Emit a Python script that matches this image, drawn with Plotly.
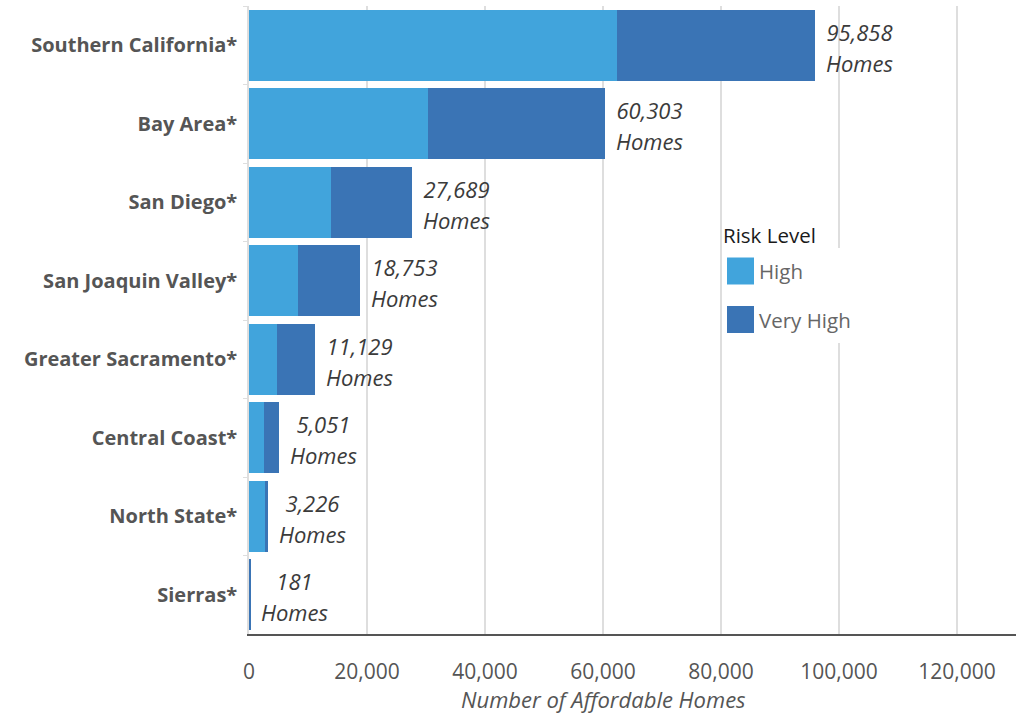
import plotly.graph_objects as go

regions = ["Southern California*", "Bay Area*", "San Diego*", "San Joaquin Valley*",
           "Greater Sacramento*", "Central Coast*", "North State*", "Sierras*"]
high = [62400, 30340, 13900, 8300, 4750, 2590, 2700, 168]
very_high = [33458, 29963, 13789, 10453, 6379, 2461, 526, 13]
totals = [95858, 60303, 27689, 18753, 11129, 5051, 3226, 181]
series_names = ["High", "Very High"]
colors = ["#41A4DC", "#3A74B5"]
x_ticks = [0, 20000, 40000, 60000, 80000, 100000, 120000]

W, H = 1016, 714
L, R, T, B = 249, 0, 6, 80
pw, ph = W - L - R, H - T - B


def px(x):
    return (x - L) / pw


def py(y):
    return (H - B - y) / ph


FONT = "Open Sans"

fig = go.Figure()
for name, vals, col in zip(series_names, [high, very_high], colors):
    fig.add_trace(go.Bar(
        y=regions, x=vals, name=name, orientation="h",
        marker=dict(color=col, line=dict(width=0)),
        showlegend=False, hoverinfo="x+y+name",
    ))

for r, t in zip(regions, totals):
    fig.add_annotation(
        x=t, y=r, xref="x", yref="y",
        text=f"<span style='font-size:22px'>{t:,}<br>Homes</span>",
        showarrow=False, xanchor="left", xshift=9, yshift=-2, align="center",
        font=dict(family=FONT, size=24, color="#3b3b3b", style="italic"),
    )

# axis title
fig.add_annotation(
    x=60000, y=py(699), xref="x", yref="paper", text="Number of Affordable Homes",
    showarrow=False, xanchor="center", yanchor="middle",
    font=dict(family=FONT, size=22, color="#555555", style="italic"),
)

# manual legend
fig.add_shape(type="rect", xref="paper", yref="paper",
              x0=px(724), x1=px(866), y0=py(248), y1=py(343),
              fillcolor="white", line=dict(width=0), layer="above")
fig.add_annotation(x=px(721), y=py(235), xref="paper", yref="paper", text="Risk Level",
                   showarrow=False, xanchor="left", yanchor="middle",
                   font=dict(family=FONT, size=20.5, color="#1a1a1a"))
for i, (name, col) in enumerate(zip(series_names, colors)):
    cy = 271 + i * 48.5
    fig.add_shape(type="rect", xref="paper", yref="paper",
                  x0=px(727), x1=px(754), y0=py(cy - 13.5), y1=py(cy + 13.5),
                  fillcolor=col, line=dict(width=0), layer="above")
    fig.add_annotation(x=px(757), y=py(cy), xref="paper", yref="paper", text=name,
                       showarrow=False, xanchor="left", yanchor="middle",
                       font=dict(family=FONT, size=20.5, color="#666666"))

fig.update_layout(
    barmode="stack", bargap=0.1,
    width=W, height=H,
    margin=dict(l=L, r=R, t=T, b=B, autoexpand=False),
    paper_bgcolor="white", plot_bgcolor="white",
    font=dict(family=FONT),
    showlegend=False,
)
fig.update_xaxes(
    range=[0, 130000], tickvals=x_ticks, ticktext=[f"{v:,}" for v in x_ticks],
    showgrid=True, gridcolor="#dedede", gridwidth=1.5,
    showline=True, linecolor="#555555", linewidth=2,
    zeroline=False, ticks="", ticklabelstandoff=18,
    tickfont=dict(family=FONT, size=21, color="#555555"),
)
fig.update_yaxes(
    autorange="reversed", showgrid=False,
    showline=True, linecolor="#dedede", linewidth=1.5,
    ticks="outside", tickson="boundaries", ticklen=4, tickcolor="#dedede",
    ticklabelstandoff=6,
    tickfont=dict(family=FONT, size=20, color="#555555", weight="bold"),
)

fig.write_html("out.html")
